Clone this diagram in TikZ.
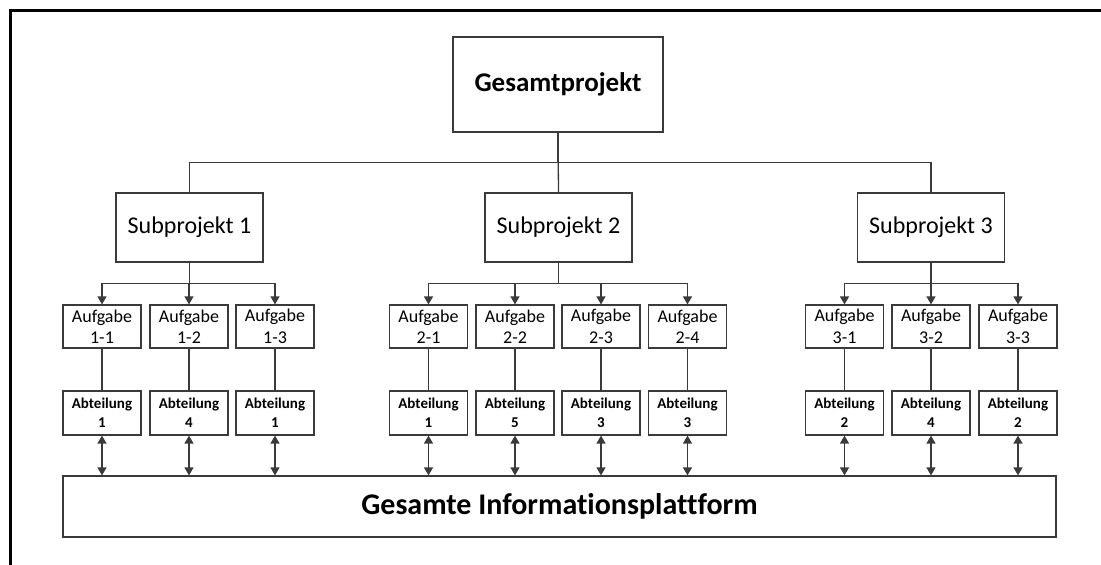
\documentclass[tikz,border=0pt]{standalone}
\usepackage{fontspec}
\setmainfont{Carlito}[Ligatures={NoCommon}]
\usetikzlibrary{arrows.meta}

\definecolor{linegray}{HTML}{3A3A3A}

\tikzset{
  box/.style={draw=linegray, line width=1.2pt, fill=white, rectangle,
    inner sep=0pt, align=center, text=black},
  topbox/.style={box, minimum width=210pt, minimum height=95pt,
    font=\fontsize{27}{32}\selectfont\bfseries},
  subbox/.style={box, minimum width=147pt, minimum height=69pt,
    font=\fontsize{24}{28}\selectfont},
  taskbox/.style={box, minimum width=78pt, minimum height=43pt,
    font=\fontsize{18}{21.5}\selectfont},
  deptbox/.style={box, minimum width=78pt, minimum height=44pt,
    font=\fontsize{15}{19}\selectfont\bfseries},
  platbox/.style={box, minimum width=993pt, minimum height=61pt,
    font=\fontsize{30}{34}\selectfont\bfseries},
  link/.style={draw=linegray, line width=1.3pt},
  feed/.style={link, -{Triangle[width=9pt,length=8pt]}},
  sync/.style={link, {Triangle[width=9pt,length=8pt]}-{Triangle[width=9pt,length=8pt]}}
}

\begin{document}
\begin{tikzpicture}[x=1pt, y=-1pt]
  \useasboundingbox (0,0) rectangle (1101,565);

  % frame on the top and left edges
  \draw[line width=3pt, black] (10.5,565) -- (10.5,10.5) -- (1101,10.5);

  % project
  \node[topbox] (g) at (558,84.5) {Gesamtprojekt};

  % subprojects
  \node[subbox] (s1) at (189.5,227.5) {Subprojekt 1};
  \node[subbox] (s2) at (558.5,227.5) {Subprojekt 2};
  \node[subbox] (s3) at (931,227.5) {Subprojekt 3};

  % tasks
  \node[taskbox] (a11) at (102,326.5)   {Aufgabe\\1-1};
  \node[taskbox] (a12) at (189,326.5)   {Aufgabe\\1-2};
  \node[taskbox] (a13) at (275,326.5)   {Aufgabe\\1-3};
  \node[taskbox] (a21) at (428.5,326.5) {Aufgabe\\2-1};
  \node[taskbox] (a22) at (515,326.5)   {Aufgabe\\2-2};
  \node[taskbox] (a23) at (601,326.5)   {Aufgabe\\2-3};
  \node[taskbox] (a24) at (687.5,326.5) {Aufgabe\\2-4};
  \node[taskbox] (a31) at (844.5,326.5) {Aufgabe\\3-1};
  \node[taskbox] (a32) at (931,326.5)   {Aufgabe\\3-2};
  \node[taskbox] (a33) at (1018,326.5)  {Aufgabe\\3-3};

  % departments
  \node[deptbox] (b11) at (102,413)   {Abteilung\\1};
  \node[deptbox] (b12) at (189,413)   {Abteilung\\4};
  \node[deptbox] (b13) at (275,413)   {Abteilung\\1};
  \node[deptbox] (b21) at (428.5,413) {Abteilung\\1};
  \node[deptbox] (b22) at (515,413)   {Abteilung\\5};
  \node[deptbox] (b23) at (601,413)   {Abteilung\\3};
  \node[deptbox] (b24) at (687.5,413) {Abteilung\\3};
  \node[deptbox] (b31) at (844.5,413) {Abteilung\\2};
  \node[deptbox] (b32) at (931,413)   {Abteilung\\4};
  \node[deptbox] (b33) at (1018,413)  {Abteilung\\2};

  % information platform
  \node[platbox] (p) at (559.5,506.5) {Gesamte Informationsplattform};

  % project -> subprojects
  \draw[link] (g.south) -- ++(0,30) -| (s1.north);
  \draw[link] (g.south) -- ++(0,30) -| (s3.north);
  \draw[link] (g.south) -- (s2.north);

  % subprojects -> tasks
  \foreach \s/\t in {s1/a11, s1/a12, s1/a13,
                     s2/a21, s2/a22, s2/a23, s2/a24,
                     s3/a31, s3/a32, s3/a33}
    \draw[feed] (\s.south) -- ++(0,21) -| (\t.north);

  % tasks -> departments, departments <-> platform
  \foreach \k in {11,12,13,21,22,23,24,31,32,33} {
    \draw[link] (a\k.south) -- (b\k.north);
    \draw[sync] (b\k.south) -- (b\k.south |- p.north);
  }
\end{tikzpicture}
\end{document}
